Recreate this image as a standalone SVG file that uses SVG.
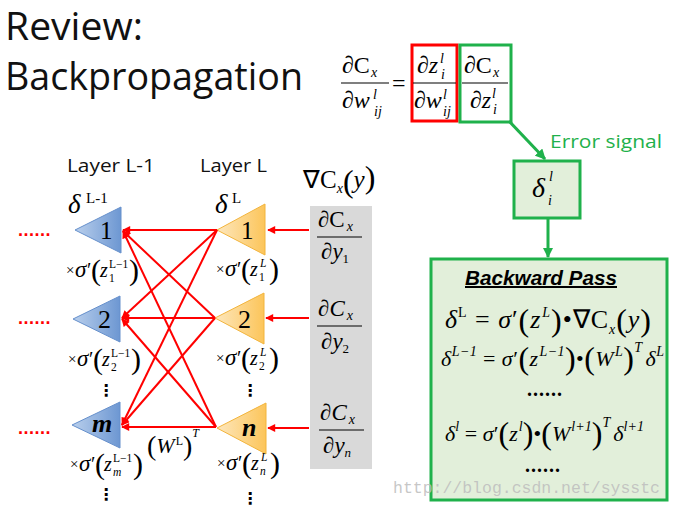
<svg xmlns="http://www.w3.org/2000/svg" width="676" height="509" viewBox="0 0 676 509">
<defs>
  <linearGradient id="gBlue" x1="0" y1="0" x2="1" y2="0">
    <stop offset="0" stop-color="#b9cfec"/><stop offset="1" stop-color="#6d97d2"/>
  </linearGradient>
  <linearGradient id="gOrange" x1="0" y1="0" x2="1" y2="0">
    <stop offset="0" stop-color="#fde7bd"/><stop offset="1" stop-color="#fcc55a"/>
  </linearGradient>
  <marker id="arRed" viewBox="0 0 10 10" refX="9" refY="5" markerWidth="4.5" markerHeight="4" orient="auto" markerUnits="strokeWidth">
    <path d="M0,0 L10,5 L0,10 z" fill="#ff0000"/>
  </marker>
  <marker id="arGreen" viewBox="0 0 10 10" refX="9" refY="5" markerWidth="3.5" markerHeight="3.5" orient="auto" markerUnits="strokeWidth">
    <path d="M0,0 L10,5 L0,10 z" fill="#1fb14b"/>
  </marker>
</defs>
<style>
  .m { font-family: "Liberation Serif", "Times New Roman", serif; fill: #000; }
  .i { font-style: italic; }
  .bp { font-size: 32px; font-style: normal; }
  .sp { font-size: 14px; }
  .ss { font-size: 11px; }
  .sans { font-family: "Open Sans", "Liberation Sans", sans-serif; }
  .blue { fill: url(#gBlue); stroke: #6690cc; stroke-width: 1; }
  .orange { fill: url(#gOrange); stroke: #f2b43c; stroke-width: 1; }
  .red { stroke: #ff0000; stroke-width: 2; fill: none; marker-end: url(#arRed); }
  .green { stroke: #1fb14b; stroke-width: 3; fill: none; marker-end: url(#arGreen); }
  .gbox { fill: #e2efda; stroke: #1fb14b; stroke-width: 3; }
  .fl { stroke: #000; stroke-width: 1.2; }
  .dots { font-family: "Liberation Sans", sans-serif; font-size: 18px; font-weight: bold; fill: #ff0000; letter-spacing: 0.5px; }
  .vd { font-family: "DejaVu Sans", sans-serif; font-size: 16px; font-weight: bold; fill: #000; }
  .lx { font-size: 15px; }
  .lg { font-size: 23px; font-style: italic; }
  .lp { font-size: 20px; }
  .lb { font-size: 30px; }
  .lz { font-size: 20px; font-style: italic; }
  .ls { font-size: 11.5px; }
</style>

<!-- Title -->
<g id="title">
  <text class="sans" x="5" y="40" font-size="38" fill="#111" textLength="138" lengthAdjust="spacingAndGlyphs">Review:</text>
  <text class="sans" x="5" y="90" font-size="38" fill="#111" textLength="298" lengthAdjust="spacingAndGlyphs">Backpropagation</text>
</g>

<!-- Top equation -->
<g id="chain-rule" class="m">
  <text x="342" y="73" font-size="24">∂C<tspan class="i sp" dy="4" dx="1">x</tspan></text>
  <line class="fl" x1="341" y1="83" x2="389" y2="83"/>
  <text x="342" y="108" font-size="24">∂<tspan class="i">w</tspan></text>
  <text class="i sp" x="373" y="99">l</text>
  <text class="i sp" x="374" y="116">ij</text>
  <text x="392" y="91" font-size="24">=</text>
</g>
<g id="red-term" class="m">
  <rect x="412" y="45" width="45" height="76" fill="none" stroke="#ff0000" stroke-width="3"/>
  <text x="417" y="73" font-size="24">∂<tspan class="i">z</tspan></text>
  <text class="i sp" x="440" y="63">l</text>
  <text class="i sp" x="441" y="79">i</text>
  <line class="fl" x1="413" y1="83" x2="456" y2="83"/>
  <text x="414" y="108" font-size="24">∂<tspan class="i">w</tspan></text>
  <text class="i sp" x="443" y="99">l</text>
  <text class="i sp" x="443" y="116">ij</text>
</g>
<g id="green-term" class="m">
  <rect x="460" y="45" width="51" height="77" fill="none" stroke="#1fb14b" stroke-width="3"/>
  <text x="464" y="73" font-size="24">∂C<tspan class="i sp" dy="4" dx="1">x</tspan></text>
  <line class="fl" x1="462" y1="83" x2="508" y2="83"/>
  <text x="470" y="108" font-size="24">∂<tspan class="i">z</tspan></text>
  <text class="i sp" x="492" y="98">l</text>
  <text class="i sp" x="493" y="114">i</text>
</g>

<!-- Error signal -->
<g id="error-signal">
  <text class="sans" x="550" y="148" font-size="18" fill="#1fb14b" textLength="112" lengthAdjust="spacingAndGlyphs">Error signal</text>
  <rect class="gbox" x="514" y="161" width="66" height="57"/>
  <text class="m i" x="532" y="197" font-size="28">δ</text>
  <text class="m i sp" x="549" y="181">l</text>
  <text class="m i sp" x="548" y="205">i</text>
</g>

<!-- Backward pass box -->
<g id="backward-pass">
  <rect class="gbox" x="431" y="259" width="236" height="241"/>
  <text x="465" y="285" font-family="Liberation Sans, sans-serif" font-size="20" font-weight="bold" font-style="italic" text-decoration="underline" textLength="152" lengthAdjust="spacingAndGlyphs">Backward Pass</text>
  <text class="m" x="445" y="328" font-size="26" textLength="206" lengthAdjust="spacing"><tspan class="i">δ</tspan><tspan class="sp" dy="-11">L</tspan><tspan dy="11"> = </tspan><tspan class="i">σ</tspan>′<tspan class="bp" dy="3">(</tspan><tspan class="i" dy="-3">z</tspan><tspan class="i sp" dy="-11" dx="1">L</tspan><tspan class="bp" dy="14">)</tspan><tspan dy="-3">•∇C</tspan><tspan class="i sp" dy="6">x</tspan><tspan class="bp" dy="-3">(</tspan><tspan class="i" dy="-3">y</tspan><tspan class="bp" dy="3">)</tspan></text>
  <text class="m" x="441" y="366" font-size="22" textLength="223" lengthAdjust="spacing"><tspan class="i">δ</tspan><tspan class="i sp" dy="-10">L−1</tspan><tspan dy="10"> = </tspan><tspan class="i">σ</tspan>′<tspan class="bp" dy="3">(</tspan><tspan class="i" dy="-3">z</tspan><tspan class="i sp" dy="-10" dx="1">L−1</tspan><tspan class="bp" dy="13">)</tspan><tspan dy="-3">•</tspan><tspan class="bp" dy="3">(</tspan><tspan class="i" dy="-3">W</tspan><tspan class="i sp" dy="-10" dx="1">L</tspan><tspan class="bp" dy="13">)</tspan><tspan class="i sp" dy="-17">T</tspan><tspan class="i" dy="14" dx="3">δ</tspan><tspan class="i sp" dy="-10">L</tspan></text>
  <text class="m" x="527" y="396" font-size="20" font-weight="bold" letter-spacing="1">......</text>
  <text class="m" x="445" y="441" font-size="22" textLength="199" lengthAdjust="spacing"><tspan class="i">δ</tspan><tspan class="i sp" dy="-10">l</tspan><tspan dy="10"> = </tspan><tspan class="i">σ</tspan>′<tspan class="bp" dy="3">(</tspan><tspan class="i" dy="-3">z</tspan><tspan class="i sp" dy="-10" dx="1">l</tspan><tspan class="bp" dy="13">)</tspan><tspan dy="-3">•</tspan><tspan class="bp" dy="3">(</tspan><tspan class="i" dy="-3">W</tspan><tspan class="i sp" dy="-10" dx="1">l+1</tspan><tspan class="bp" dy="13">)</tspan><tspan class="i sp" dy="-17">T</tspan><tspan class="i" dy="14" dx="3">δ</tspan><tspan class="i sp" dy="-10">l+1</tspan></text>
  <text class="m" x="525" y="472" font-size="20" font-weight="bold" letter-spacing="1">......</text>
</g>

<!-- Layer labels -->
<g id="layer-labels">
  <text class="sans" x="67" y="172" font-size="18" fill="#111" textLength="88" lengthAdjust="spacingAndGlyphs">Layer L-1</text>
  <text class="sans" x="200" y="172" font-size="18" fill="#111" textLength="67" lengthAdjust="spacingAndGlyphs">Layer L</text>
  <text class="m i" x="68" y="213" font-size="27">δ</text>
  <text class="m" x="86" y="203" font-size="15">L-1</text>
  <text class="m i" x="215" y="213" font-size="27">δ</text>
  <text class="m" x="232" y="203" font-size="15">L</text>
</g>

<!-- Gradient column -->
<g id="gradient-column">
  <text class="m" x="303" y="188" font-size="25">∇C<tspan class="i sp" dy="5">x</tspan><tspan class="bp" dy="-1">(</tspan><tspan class="i" dy="-4">y</tspan><tspan class="bp" dy="0">)</tspan></text>
  <rect x="310" y="206" width="62" height="263" fill="#d9d9d9"/>
  <text class="m" x="318" y="227" font-size="23">∂C<tspan class="i" dy="4" dx="2" font-size="14">x</tspan></text>
  <line class="fl" x1="317" y1="237" x2="362" y2="237"/>
  <text class="m" x="321" y="259" font-size="23">∂<tspan class="i">y</tspan><tspan dy="4" font-size="13">1</tspan></text>
  <text class="m" x="318" y="316" font-size="23">∂<tspan class="i">C</tspan><tspan class="i" dy="4" dx="2" font-size="14">x</tspan></text>
  <line class="fl" x1="317" y1="326" x2="362" y2="326"/>
  <text class="m" x="321" y="349" font-size="23">∂<tspan class="i">y</tspan><tspan dy="4" font-size="13">2</tspan></text>
  <text class="m" x="320" y="420" font-size="23">∂<tspan class="i">C</tspan><tspan class="i" dy="4" dx="2" font-size="14">x</tspan></text>
  <line class="fl" x1="319" y1="430" x2="364" y2="430"/>
  <text class="m" x="323" y="453" font-size="23">∂<tspan class="i">y</tspan><tspan class="i" dy="4" font-size="13">n</tspan></text>
</g>

<!-- Blue nodes (layer L-1) -->
<g id="node-b1">
  <polygon class="blue" points="75,230 121,207 121,253"/>
  <text class="m" x="100" y="239" font-size="25">1</text>
  <text class="dots" x="18" y="236">......</text>
  <g transform="translate(66,277)" class="m">
    <text class="lx" x="0" y="-2">×</text>
    <text class="lg" x="9" y="0">σ</text>
    <text class="lp" x="21" y="0">′</text>
    <text class="lb" x="25" y="3">(</text>
    <text class="lz" x="34" y="0">z</text>
    <text class="ls" x="43" y="-9">L−1</text>
    <text class="ls" x="43" y="5">1</text>
    <text class="lb" x="63" y="3">)</text>
  </g>
</g>
<g id="node-b2">
  <polygon class="blue" points="73,319 120,296 120,342"/>
  <text class="m" x="98" y="328" font-size="26">2</text>
  <text class="dots" x="18" y="324">......</text>
  <g transform="translate(68,366)" class="m">
    <text class="lx" x="0" y="-2">×</text>
    <text class="lg" x="9" y="0">σ</text>
    <text class="lp" x="21" y="0">′</text>
    <text class="lb" x="25" y="3">(</text>
    <text class="lz" x="34" y="0">z</text>
    <text class="ls" x="43" y="-9">L−1</text>
    <text class="ls" x="43" y="5">2</text>
    <text class="lb" x="63" y="3">)</text>
  </g>
  <text class="vd" x="98" y="396">⋮</text>
</g>
<g id="node-bm">
  <polygon class="blue" points="72,425 120,402 120,448"/>
  <text class="m i" x="92" y="432" font-size="26" font-weight="bold">m</text>
  <text class="dots" x="18" y="434">......</text>
  <g transform="translate(70,471)" class="m">
    <text class="lx" x="0" y="-2">×</text>
    <text class="lg" x="9" y="0">σ</text>
    <text class="lp" x="21" y="0">′</text>
    <text class="lb" x="25" y="3">(</text>
    <text class="lz" x="34" y="0">z</text>
    <text class="ls" x="43" y="-9">L−1</text>
    <text class="ls i" x="43" y="5">m</text>
    <text class="lb" x="63" y="3">)</text>
  </g>
  <text class="vd" x="98" y="500">⋮</text>
  <text class="m" x="147" y="453" font-size="22"><tspan font-size="28" dy="2">(</tspan><tspan class="i" dy="-2">W</tspan><tspan font-size="12" dy="-8" dx="1">L</tspan><tspan font-size="28" dy="10">)</tspan><tspan class="i" font-size="12" dy="-18">T</tspan></text>
</g>

<!-- Orange nodes (layer L) -->
<g id="node-o1">
  <polygon class="orange" points="217,230 265,204 265,255"/>
  <text class="m" x="241" y="239" font-size="25">1</text>
  <g transform="translate(216,276)" class="m">
    <text class="lx" x="0" y="-2">×</text>
    <text class="lg" x="9" y="0">σ</text>
    <text class="lp" x="21" y="0">′</text>
    <text class="lb" x="25" y="3">(</text>
    <text class="lz" x="34" y="0">z</text>
    <text class="ls i" x="44" y="-9">L</text>
    <text class="ls" x="43" y="5">1</text>
    <text class="lb" x="53" y="3">)</text>
  </g>
</g>
<g id="node-o2">
  <polygon class="orange" points="215,318 264,293 264,344"/>
  <text class="m" x="238" y="328" font-size="26">2</text>
  <g transform="translate(216,365)" class="m">
    <text class="lx" x="0" y="-2">×</text>
    <text class="lg" x="9" y="0">σ</text>
    <text class="lp" x="21" y="0">′</text>
    <text class="lb" x="25" y="3">(</text>
    <text class="lz" x="34" y="0">z</text>
    <text class="ls i" x="44" y="-9">L</text>
    <text class="ls" x="43" y="5">2</text>
    <text class="lb" x="53" y="3">)</text>
  </g>
  <text class="vd" x="242" y="396">⋮</text>
</g>
<g id="node-on">
  <polygon class="orange" points="217,428 266,403 266,454"/>
  <text class="m i" x="242" y="436" font-size="26" font-weight="bold">n</text>
  <g transform="translate(217,470)" class="m">
    <text class="lx" x="0" y="-2">×</text>
    <text class="lg" x="9" y="0">σ</text>
    <text class="lp" x="21" y="0">′</text>
    <text class="lb" x="25" y="3">(</text>
    <text class="lz" x="34" y="0">z</text>
    <text class="ls i" x="44" y="-9">L</text>
    <text class="ls i" x="43" y="5">n</text>
    <text class="lb" x="53" y="3">)</text>
  </g>
  <text class="vd" x="242" y="504">⋮</text>
</g>

<!-- Connectors -->
<g id="connectors">
  <line class="red" x1="217" y1="230" x2="123" y2="230"/>
  <line class="red" x1="217" y1="230" x2="122" y2="318"/>
  <line class="red" x1="217" y1="230" x2="122" y2="425"/>
  <line class="red" x1="215" y1="318" x2="123" y2="231"/>
  <line class="red" x1="215" y1="318" x2="122" y2="318"/>
  <line class="red" x1="215" y1="318" x2="122" y2="425"/>
  <line class="red" x1="216" y1="427" x2="123" y2="231"/>
  <line class="red" x1="216" y1="427" x2="122" y2="319"/>
  <line class="red" x1="216" y1="427" x2="122" y2="427"/>
  <line class="red" x1="309" y1="230" x2="268" y2="230"/>
  <line class="red" x1="309" y1="318" x2="266" y2="318"/>
  <line class="red" x1="309" y1="428" x2="268" y2="428"/>
  <line class="green" x1="509" y1="121" x2="545" y2="159"/>
  <line class="green" x1="548" y1="219" x2="548" y2="257"/>
</g>

<!-- Watermark -->
<text x="393" y="493" font-family="Liberation Mono, monospace" font-size="17" fill="#bdbdbd" fill-opacity="0.85" textLength="267" lengthAdjust="spacingAndGlyphs">http://blog.csdn.net/sysstc</text>
</svg>
